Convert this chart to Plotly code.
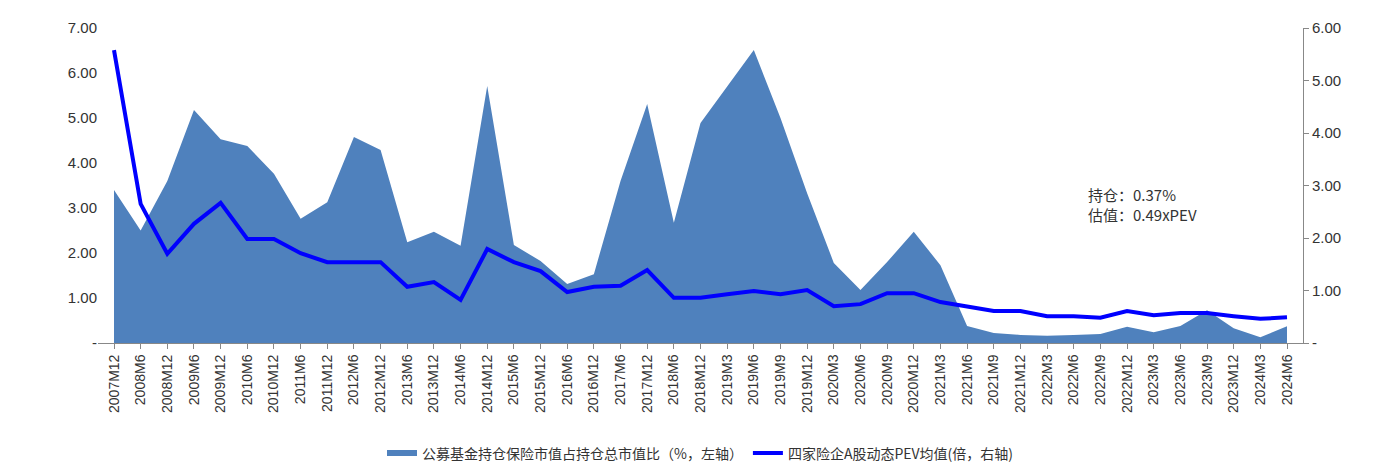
import plotly.graph_objects as go

periods = ["2007M12", "2008M6", "2008M12", "2009M6", "2009M12", "2010M6", "2010M12",
           "2011M6", "2011M12", "2012M6", "2012M12", "2013M6", "2013M12", "2014M6",
           "2014M12", "2015M6", "2015M12", "2016M6", "2016M12", "2017M6", "2017M12",
           "2018M6", "2018M12", "2019M3", "2019M6", "2019M9", "2019M12", "2020M3",
           "2020M6", "2020M9", "2020M12", "2021M3", "2021M6", "2021M9", "2021M12",
           "2022M3", "2022M6", "2022M9", "2022M12", "2023M3", "2023M6", "2023M9",
           "2023M12", "2024M3", "2024M6"]

# 公募基金持仓保险市值占比 (%)
holding = [3.40, 2.50, 3.60, 5.18, 4.53, 4.38, 3.76, 2.76, 3.13, 4.58, 4.29, 2.24, 2.47,
           2.16, 5.71, 2.18, 1.82, 1.31, 1.53, 3.60, 5.31, 2.67, 4.89, 5.70, 6.51, 5.00,
           3.33, 1.78, 1.18, 1.80, 2.47, 1.73, 0.38, 0.22, 0.18, 0.16, 0.18, 0.20, 0.36,
           0.24, 0.38, 0.73, 0.33, 0.13, 0.37]

# 四家险企A股动态PEV均值 (倍)
pev = [5.58, 2.65, 1.70, 2.27, 2.67, 1.98, 1.98, 1.71, 1.54, 1.54, 1.54, 1.07, 1.16,
       0.82, 1.79, 1.54, 1.37, 0.97, 1.07, 1.09, 1.39, 0.86, 0.86, 0.93, 0.99, 0.93,
       1.01, 0.70, 0.74, 0.95, 0.95, 0.78, 0.70, 0.61, 0.61, 0.51, 0.51, 0.48, 0.61,
       0.53, 0.57, 0.57, 0.51, 0.46, 0.49]

fig = go.Figure()
fig.add_trace(go.Scatter(
    x=periods, y=holding, name="公募基金持仓保险市值占持仓总市值比（%，左轴）",
    mode="none", fill="tozeroy", fillcolor="#4f81bd",
))
fig.add_trace(go.Scatter(
    x=periods, y=pev, name="四家险企A股动态PEV均值(倍，右轴)", yaxis="y2",
    mode="lines", line=dict(color="#0000ff", width=4),
))

fig.add_annotation(x=0.82, y=0.44, xref="paper", yref="paper", xanchor="left",
                   align="left", showarrow=False,
                   text="持仓：0.37%<br>估值：0.49xPEV",
                   font=dict(size=15, color="#333333"))

num_font = dict(family="Liberation Sans, Arial", size=15, color="#333333")

fig.update_layout(
    width=1385, height=470,
    margin=dict(l=90, r=90, t=20, b=135, autoexpand=False),
    plot_bgcolor="white", paper_bgcolor="white",
    font=dict(family="Noto Sans CJK SC", size=14, color="#333333"),
    showlegend=True,
    legend=dict(orientation="h", x=0.5, xanchor="center", y=-0.3, yanchor="top",
                font=dict(size=14)),
    xaxis=dict(type="category", tickangle=-90, showline=True, linecolor="#888888",
               ticks="outside", ticklen=5, tickcolor="#888888", showgrid=False,
               range=[-0.6, 44.6], automargin=False,
               tickfont=dict(family="Liberation Sans, Arial", size=14, color="#333333")),
    yaxis=dict(range=[0, 7], tickvals=[0, 1, 2, 3, 4, 5, 6, 7],
               ticktext=["-", "1.00", "2.00", "3.00", "4.00", "5.00", "6.00", "7.00"],
               showgrid=False, showline=False, automargin=False, tickfont=num_font),
    yaxis2=dict(range=[0, 6], overlaying="y", side="right",
                tickvals=[0, 1, 2, 3, 4, 5, 6],
                ticktext=["-", "1.00", "2.00", "3.00", "4.00", "5.00", "6.00"],
                showgrid=False, showline=True, linecolor="#888888", automargin=False,
                ticks="outside", ticklen=5, tickcolor="#888888", tickfont=num_font),
)

fig.write_html("out.html")
